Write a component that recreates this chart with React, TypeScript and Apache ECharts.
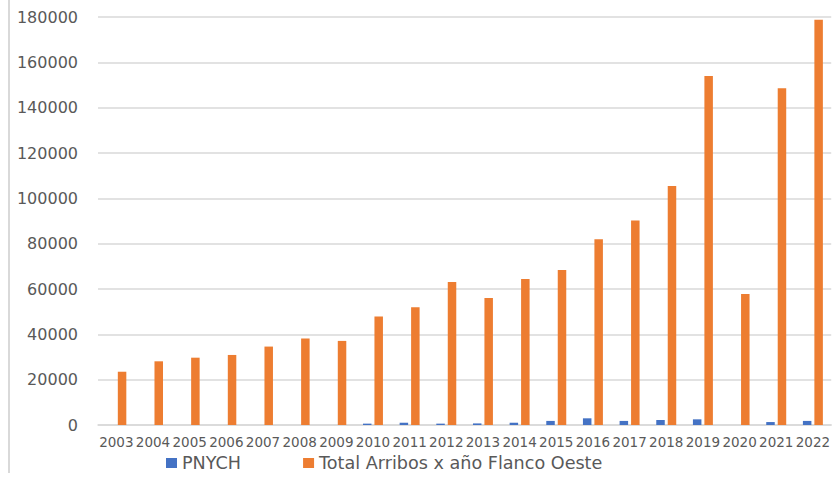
import React, { useEffect, useRef } from "react";
import * as echarts from "echarts";

const years = [
  "2003", "2004", "2005", "2006", "2007", "2008", "2009", "2010", "2011", "2012",
  "2013", "2014", "2015", "2016", "2017", "2018", "2019", "2020", "2021", "2022",
];
const pnych = [
  0, 0, 0, 0, 0, 0, 0, 600, 1000, 600,
  700, 1000, 1800, 2950, 1800, 2200, 2500, 0, 1300, 1800,
];
const totalArribos = [
  23500, 28100, 29700, 30900, 34600, 38200, 37100, 47900, 52000, 63100,
  56000, 64400, 68400, 82000, 90200, 105400, 154000, 57800, 148600, 178800,
];
const seriesNames = ["PNYCH", "Total Arribos x año Flanco Oeste"];
const yMin = 0;
const yMax = 180000;
const yInterval = 20000;

export default function App() {
  const ref = useRef<HTMLDivElement>(null);
  useEffect(() => {
    if (!ref.current) return;
    const chart = echarts.init(ref.current, undefined, { renderer: "svg" });
    chart.setOption({
      animation: false,
      backgroundColor: "#ffffff",
      grid: { left: 98, right: -1, top: 17, bottom: 53, containLabel: false },
      legend: {
        left: 161,
        top: 449,
        itemWidth: 11,
        itemHeight: 10,
        itemGap: 62,
        icon: "rect",
        textStyle: { fontFamily: "DejaVu Sans", fontSize: 17.6, color: "#595959" },
        data: seriesNames,
      },
      xAxis: {
        type: "category",
        data: years,
        axisLine: { show: true, lineStyle: { color: "#D9D9D9", width: 1.5 } },
        axisTick: { show: false },
        axisLabel: { fontFamily: "DejaVu Sans", fontSize: 13.5, color: "#595959", margin: 10, interval: 0 },
      },
      yAxis: {
        type: "value",
        min: yMin,
        max: yMax,
        interval: yInterval,
        axisLine: { show: false },
        axisTick: { show: false },
        splitLine: { lineStyle: { color: "#D9D9D9", width: 1.5 } },
        axisLabel: {
          fontFamily: "DejaVu Sans",
          fontSize: 16,
          color: "#595959",
          margin: 20,
          formatter: (v: number) => String(v),
        },
      },
      series: [
        {
          name: seriesNames[0],
          type: "bar",
          data: pnych,
          barWidth: 8.5,
          barGap: "35%",
          itemStyle: { color: "#4472C4" },
        },
        {
          name: seriesNames[1],
          type: "bar",
          data: totalArribos,
          barWidth: 8.5,
          barGap: "35%",
          itemStyle: { color: "#ED7D31" },
        },
      ],
      graphic: [
        {
          type: "line",
          shape: { x1: 9, y1: 0, x2: 9, y2: 473 },
          style: { stroke: "#D9D9D9", lineWidth: 2 },
        },
      ],
    });
    return () => chart.dispose();
  }, []);
  return <div ref={ref} style={{ width: 833, height: 478, position: "fixed", left: 0, top: 0 }} />;
}
